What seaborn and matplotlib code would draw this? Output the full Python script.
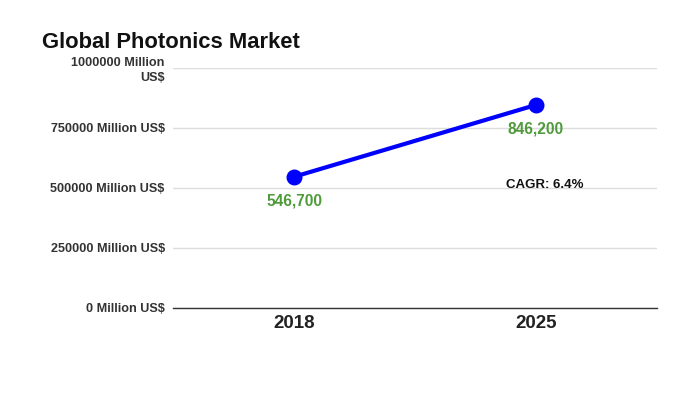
import numpy as np
import pandas as pd
import matplotlib
matplotlib.use("Agg")
import matplotlib.pyplot as plt
import seaborn as sns

years = ["2018", "2025"]
market = [546700, 846200]
value_labels = ["546,700", "846,200"]
yticks = [0, 250000, 500000, 750000, 1000000]
ytick_labels = ["0 Million US$", "250000 Million US$", "500000 Million US$",
                "750000 Million US$", "1000000 Million\nUS$"]

sns.set_style("white")
plt.rcParams["font.family"] = ["Liberation Sans", "DejaVu Sans"]

df = pd.DataFrame({"Year": years, "Market": market})

fig = plt.figure(figsize=(7, 3.94), dpi=100)
ax = fig.add_axes([173 / 700, 1 - 308 / 394, (657 - 173) / 700, 240 / 394])

sns.lineplot(data=df, x="Year", y="Market", ax=ax, color="#0000ff",
             linewidth=3, marker="o", markersize=11.5, markeredgewidth=0, sort=False)

ax.set_xlim(-0.5, 1.5)
ax.set_ylim(0, 1000000)
ax.set_yticks(yticks)
ax.set_yticklabels(ytick_labels, fontsize=9.1, fontweight="bold", color="#333333",
                   linespacing=1.3)
ax.set_xticks(range(len(years)))
ax.set_xticklabels(years, fontsize=13.5, fontweight="bold", color="#222222")
ax.tick_params(axis="y", length=0, pad=6)
ax.tick_params(axis="x", length=0, pad=5)
ax.grid(axis="y", color="#dddddd", linewidth=1)
for side in ["top", "right", "left"]:
    ax.spines[side].set_visible(False)
ax.spines["bottom"].set_color("#333333")
ax.spines["bottom"].set_linewidth(1)
ax.set_xlabel("")
ax.set_ylabel("")

for i, (v, lab) in enumerate(zip(market, value_labels)):
    ax.annotate(lab, (i, v), xytext=(0, -12), textcoords="offset points",
                ha="center", va="top", fontsize=11.2, fontweight="bold", color="#4f9a3a")

ax.text(0.769, 0.5125, "CAGR: 6.4%", transform=ax.transAxes,
        ha="center", va="center", fontsize=9.5, fontweight="bold", color="#111111")

fig.text(42 / 700, 1 - 42 / 394, "Global Photonics Market", fontsize=15.8,
         fontweight="bold", color="#111111", va="center", ha="left")

fig.savefig("out.png", dpi=100)
